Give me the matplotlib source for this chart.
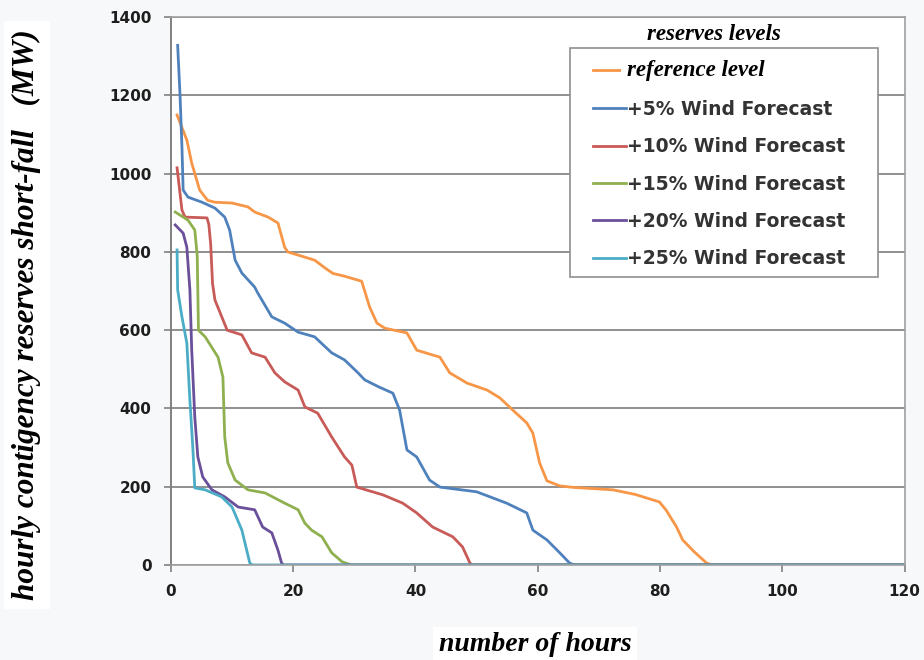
import matplotlib.pyplot as plt
from matplotlib.font_manager import FontProperties
from matplotlib.patches import Rectangle

# hourly reserve short-fall duration curves (hours sorted by short-fall, MW)
ref_hours = [1.0, 2.6, 3.4, 4.7, 6.0, 7.2, 10.0, 12.6, 13.7, 15.9, 17.5, 18.6, 19.1, 20.8,
             23.5, 25.2, 26.5, 28.4, 31.2, 32.5, 33.7, 35.0, 38.6, 40.2, 44.0, 45.6, 48.4,
             51.7, 53.8, 55.9, 58.2, 59.2, 60.3, 61.5, 63.6, 66.0, 72.3, 76.0, 79.9, 81.0,
             82.7, 83.7, 85.5, 87.6, 88.5, 120.0]
ref_mw = [1150, 1086, 1027, 958, 932, 927, 925, 915, 902, 889, 874, 812, 800, 792,
          779, 759, 745, 738, 725, 659, 618, 605, 593, 549, 531, 491, 465,
          447, 427, 396, 363, 337, 261, 215, 202, 198, 192, 180, 161, 140,
          97, 64, 35, 5, 0, 0]

w5_hours = [1.1, 1.5, 1.8, 2.0, 2.8, 5.1, 7.2, 8.8, 9.6, 10.5, 11.6, 13.7, 14.2, 16.5, 18.6,
            20.8, 23.5, 26.3, 28.4, 30.6, 31.7, 34.0, 36.3, 37.4, 38.6, 40.2, 42.3, 44.0,
            50.0, 54.9, 58.2, 59.2, 61.5, 63.6, 65.2, 66.0, 120.0]
w5_mw = [1328, 1196, 1068, 958, 940, 927, 912, 889, 856, 779, 746, 710, 695, 634, 618,
         595, 583, 542, 524, 491, 473, 455, 439, 396, 294, 276, 217, 199,
         187, 158, 133, 89, 64, 31, 5, 0, 0]

w10_hours = [1.0, 1.8, 2.3, 5.9, 6.2, 6.5, 6.8, 7.2, 9.2, 11.6, 13.2, 15.4, 17.0, 18.6, 20.8,
             21.9, 24.0, 26.3, 28.4, 29.6, 30.4, 34.7, 37.9, 40.2, 42.8, 46.1, 47.7, 48.9,
             49.3, 120.0]
w10_mw = [1015, 907, 889, 887, 870, 820, 720, 677, 600, 588, 542, 531, 491, 468, 447,
          404, 388, 327, 276, 255, 199, 179, 158, 133, 97, 72, 46, 5,
          0, 0]

w15_hours = [0.7, 2.8, 3.9, 4.3, 4.5, 5.6, 7.7, 8.5, 8.8, 9.3, 10.5, 12.6, 15.4, 18.6, 20.8,
             21.9, 23.0, 24.7, 26.3, 28.0, 29.5, 120.0]
w15_mw = [902, 881, 856, 790, 600, 583, 531, 480, 327, 261, 217, 192, 184, 158, 141,
          107, 89, 72, 31, 8, 0, 0]

w20_hours = [0.7, 2.0, 2.6, 3.1, 3.4, 3.9, 4.4, 5.2, 6.7, 8.8, 11.0, 13.7, 15.0, 16.5, 17.5,
             18.1, 18.4, 120.0]
w20_mw = [869, 848, 812, 703, 549, 378, 276, 225, 192, 174, 148, 141, 97, 82, 38,
          5, 0, 0]

w25_hours = [1.0, 1.1, 1.8, 2.6, 3.1, 3.6, 3.9, 5.6, 8.3, 10.0, 11.6, 12.9, 13.3, 120.0]
w25_mw = [805, 703, 634, 567, 421, 294, 197, 192, 174, 148, 89, 5, 0, 0]

series = [
    ('reference level', ref_hours, ref_mw, '#f79646'),
    ('+5% Wind Forecast', w5_hours, w5_mw, '#4f81bd'),
    ('+10% Wind Forecast', w10_hours, w10_mw, '#c85a57'),
    ('+15% Wind Forecast', w15_hours, w15_mw, '#8fb04f'),
    ('+20% Wind Forecast', w20_hours, w20_mw, '#6a4f9a'),
    ('+25% Wind Forecast', w25_hours, w25_mw, '#4bacc6'),
]

x_ticks = [0, 20, 40, 60, 80, 100, 120]
y_ticks = [0, 200, 400, 600, 800, 1000, 1200, 1400]

fig = plt.figure(figsize=(9.24, 6.6), dpi=100, facecolor='#f7f8f9')
ax = fig.add_axes([0.185, 0.144, 0.794, 0.830])
ax.set_facecolor('white')

for name, hrs, mw, col in series:
    ax.plot(hrs, mw, color=col, lw=2.0, label=name, solid_joinstyle='round')

ax.set_xlim(0, 120)
ax.set_ylim(0, 1400)
ax.set_xticks(x_ticks)
ax.set_yticks(y_ticks)
ax.yaxis.grid(True, color='#8f8f8f', lw=1.4)
ax.set_axisbelow(True)
for side in ['top', 'right', 'bottom']:
    ax.spines[side].set_color('#a0a0a0')
    ax.spines[side].set_linewidth(1.2)
ax.spines['left'].set_color('#808080')
ax.spines['left'].set_linewidth(1.4)
ax.tick_params(direction='out', length=5, color='#808080', width=1.2, pad=9,
               labelsize=11, labelcolor='#1e1e1e')
for lbl in ax.get_xticklabels() + ax.get_yticklabels():
    lbl.set_fontweight('bold')
    lbl.set_fontfamily('DejaVu Sans')

serif_bi = dict(fontfamily='Liberation Serif', fontweight='bold', style='italic')

fig.text(0.029, 0.523, 'hourly contigency reserves short-fall   (MW)', rotation=90,
         ha='center', va='center', fontsize=22.5, **serif_bi,
         bbox=dict(facecolor='white', edgecolor='none', pad=6))
fig.text(0.579, 0.023, 'number of hours', ha='center', va='center', fontsize=20, **serif_bi,
         bbox=dict(facecolor='white', edgecolor='none', pad=4))

# legend box drawn separately so the entries can sit with a wider left inset
ax.add_patch(Rectangle((0.5436, 0.5255), 0.4196, 0.4179, transform=ax.transAxes,
                       facecolor='white', edgecolor='#8f8f8f', lw=1.2, zorder=4))
leg = ax.legend(loc='upper left', bbox_to_anchor=(0.575, 0.921), borderaxespad=0,
                frameon=False, borderpad=0,
                prop=FontProperties(family='DejaVu Sans', weight='bold', size=13.5),
                handlelength=1.75, handletextpad=0.05, labelspacing=0.98)
leg.set_zorder(5)
for t in leg.get_texts():
    t.set_color('#333333')
first = leg.get_texts()[0]
first.set_fontproperties(FontProperties(family='Liberation Serif', weight='bold',
                                        style='italic', size=16.5))
first.set_color('black')
first.set_bbox(dict(facecolor='white', edgecolor='none', pad=4))

ax.text(0.74, 0.968, 'reserves levels', transform=ax.transAxes, ha='center', va='center',
        fontsize=16.5, zorder=6, **serif_bi)

fig.savefig('out.png', dpi=100, facecolor=fig.get_facecolor())
